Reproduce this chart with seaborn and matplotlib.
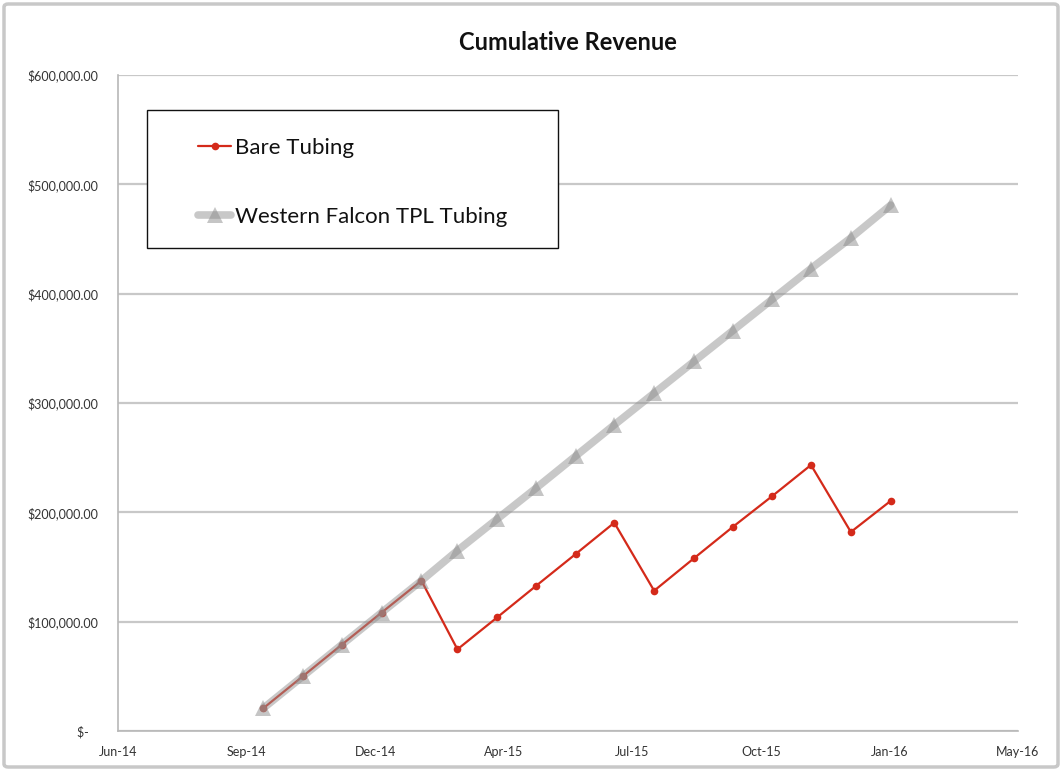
import matplotlib
matplotlib.use("Agg")
import matplotlib.pyplot as plt
import matplotlib.dates as mdates
from matplotlib.patches import Rectangle, FancyBboxPatch
from matplotlib.ticker import FuncFormatter
import numpy as np
import pandas as pd
import seaborn as sns

# ---- data ----
months = ["2014-09-30", "2014-10-31", "2014-11-30", "2014-12-31", "2015-01-31",
          "2015-02-28", "2015-03-31", "2015-04-30", "2015-05-31", "2015-06-30",
          "2015-07-31", "2015-08-31", "2015-09-30", "2015-10-31", "2015-11-30",
          "2015-12-31", "2016-01-31"]
bare_tubing = [20800, 50300, 78900, 108300, 137500, 74700, 104000, 132600, 161900,
               190500, 128300, 158000, 186500, 215000, 243300, 182000, 210500]
western_falcon = [20800, 50300, 78900, 108300, 137500, 165000, 194000, 222000, 251500,
                  280000, 309000, 338000, 366000, 395000, 423000, 451000, 481000]
series_names = ["Bare Tubing", "Western Falcon TPL Tubing"]
title = "Cumulative Revenue"
x_tick_start = "2014-06-09"
y_ticks = [0, 100000, 200000, 300000, 400000, 500000, 600000]

df = pd.DataFrame({"date": pd.to_datetime(months),
                   "bare": bare_tubing, "wf": western_falcon})

sns.set_theme(style="white")
plt.rcParams["font.family"] = ["Lato", "DejaVu Sans"]

W, H = 1063, 771
fig = plt.figure(figsize=(W / 100, H / 100), dpi=100)
ax = fig.add_axes([118 / W, 1 - 731 / H, 900 / W, 656 / H])

# outer chart frame
fig.patches.append(FancyBboxPatch((4 / W, 4 / H), (W - 9) / W, (H - 8) / H,
                                  boxstyle="round,pad=0,rounding_size=0.004",
                                  transform=fig.transFigure, facecolor="none",
                                  edgecolor="#c8c8c8", linewidth=2.5, zorder=0))

sns.lineplot(data=df, x="date", y="bare", ax=ax, color="#d42a1a", linewidth=1.6,
             marker="o", markersize=5.5, markeredgewidth=0, label=series_names[0],
             zorder=3)
sns.lineplot(data=df, x="date", y="wf", ax=ax, color="#939393", linewidth=5.5,
             alpha=0.5, marker="^", markersize=11, markeredgewidth=0,
             markerfacecolor="#8c8c8c", label=series_names[1], zorder=4)

# axes
ticks = pd.date_range(x_tick_start, periods=8, freq="100D")
ax.set_xlim(ticks[0], ticks[-1])
ax.set_xticks(ticks)
ax.xaxis.set_major_formatter(mdates.DateFormatter("%b-%y"))
ax.set_ylim(0, 600000)
ax.set_yticks(y_ticks)
ax.yaxis.set_major_formatter(FuncFormatter(
    lambda v, p: "$-   " if v == 0 else "${:,.2f}".format(v)))
ax.set_xlabel("")
ax.set_ylabel("")
ax.grid(axis="y", color="#c8c8c8", linewidth=1.6, zorder=0)
ax.set_axisbelow(True)
for s in ["top", "right"]:
    ax.spines[s].set_visible(False)
for s in ["left", "bottom"]:
    ax.spines[s].set_color("#b8b8b8")
    ax.spines[s].set_linewidth(1.2)
ax.tick_params(axis="both", which="both", direction="out", length=5, width=1,
               color="#b8b8b8", labelsize=9, labelcolor="#333333", pad=6)
ax.tick_params(axis="y", pad=9)

ax.set_title(title, fontsize=17, fontweight="bold", pad=18, color="#111111")

# legend box
ax.add_patch(Rectangle((29 / 900, (731 - 248) / 656), 411 / 900, 138 / 656,
                       transform=ax.transAxes, facecolor="white",
                       edgecolor="#111111", linewidth=1.0, zorder=5))
leg = ax.legend(loc="center left", bbox_to_anchor=(80 / 900, (731 - 182.5) / 656),
                frameon=False, fontsize=16, handlelength=1.5, handletextpad=0.15,
                labelspacing=2.2, borderpad=0, borderaxespad=0)
leg.set_zorder(6)
for t in leg.get_texts():
    t.set_color("#111111")

fig.savefig("out.png", dpi=100, facecolor="white")
